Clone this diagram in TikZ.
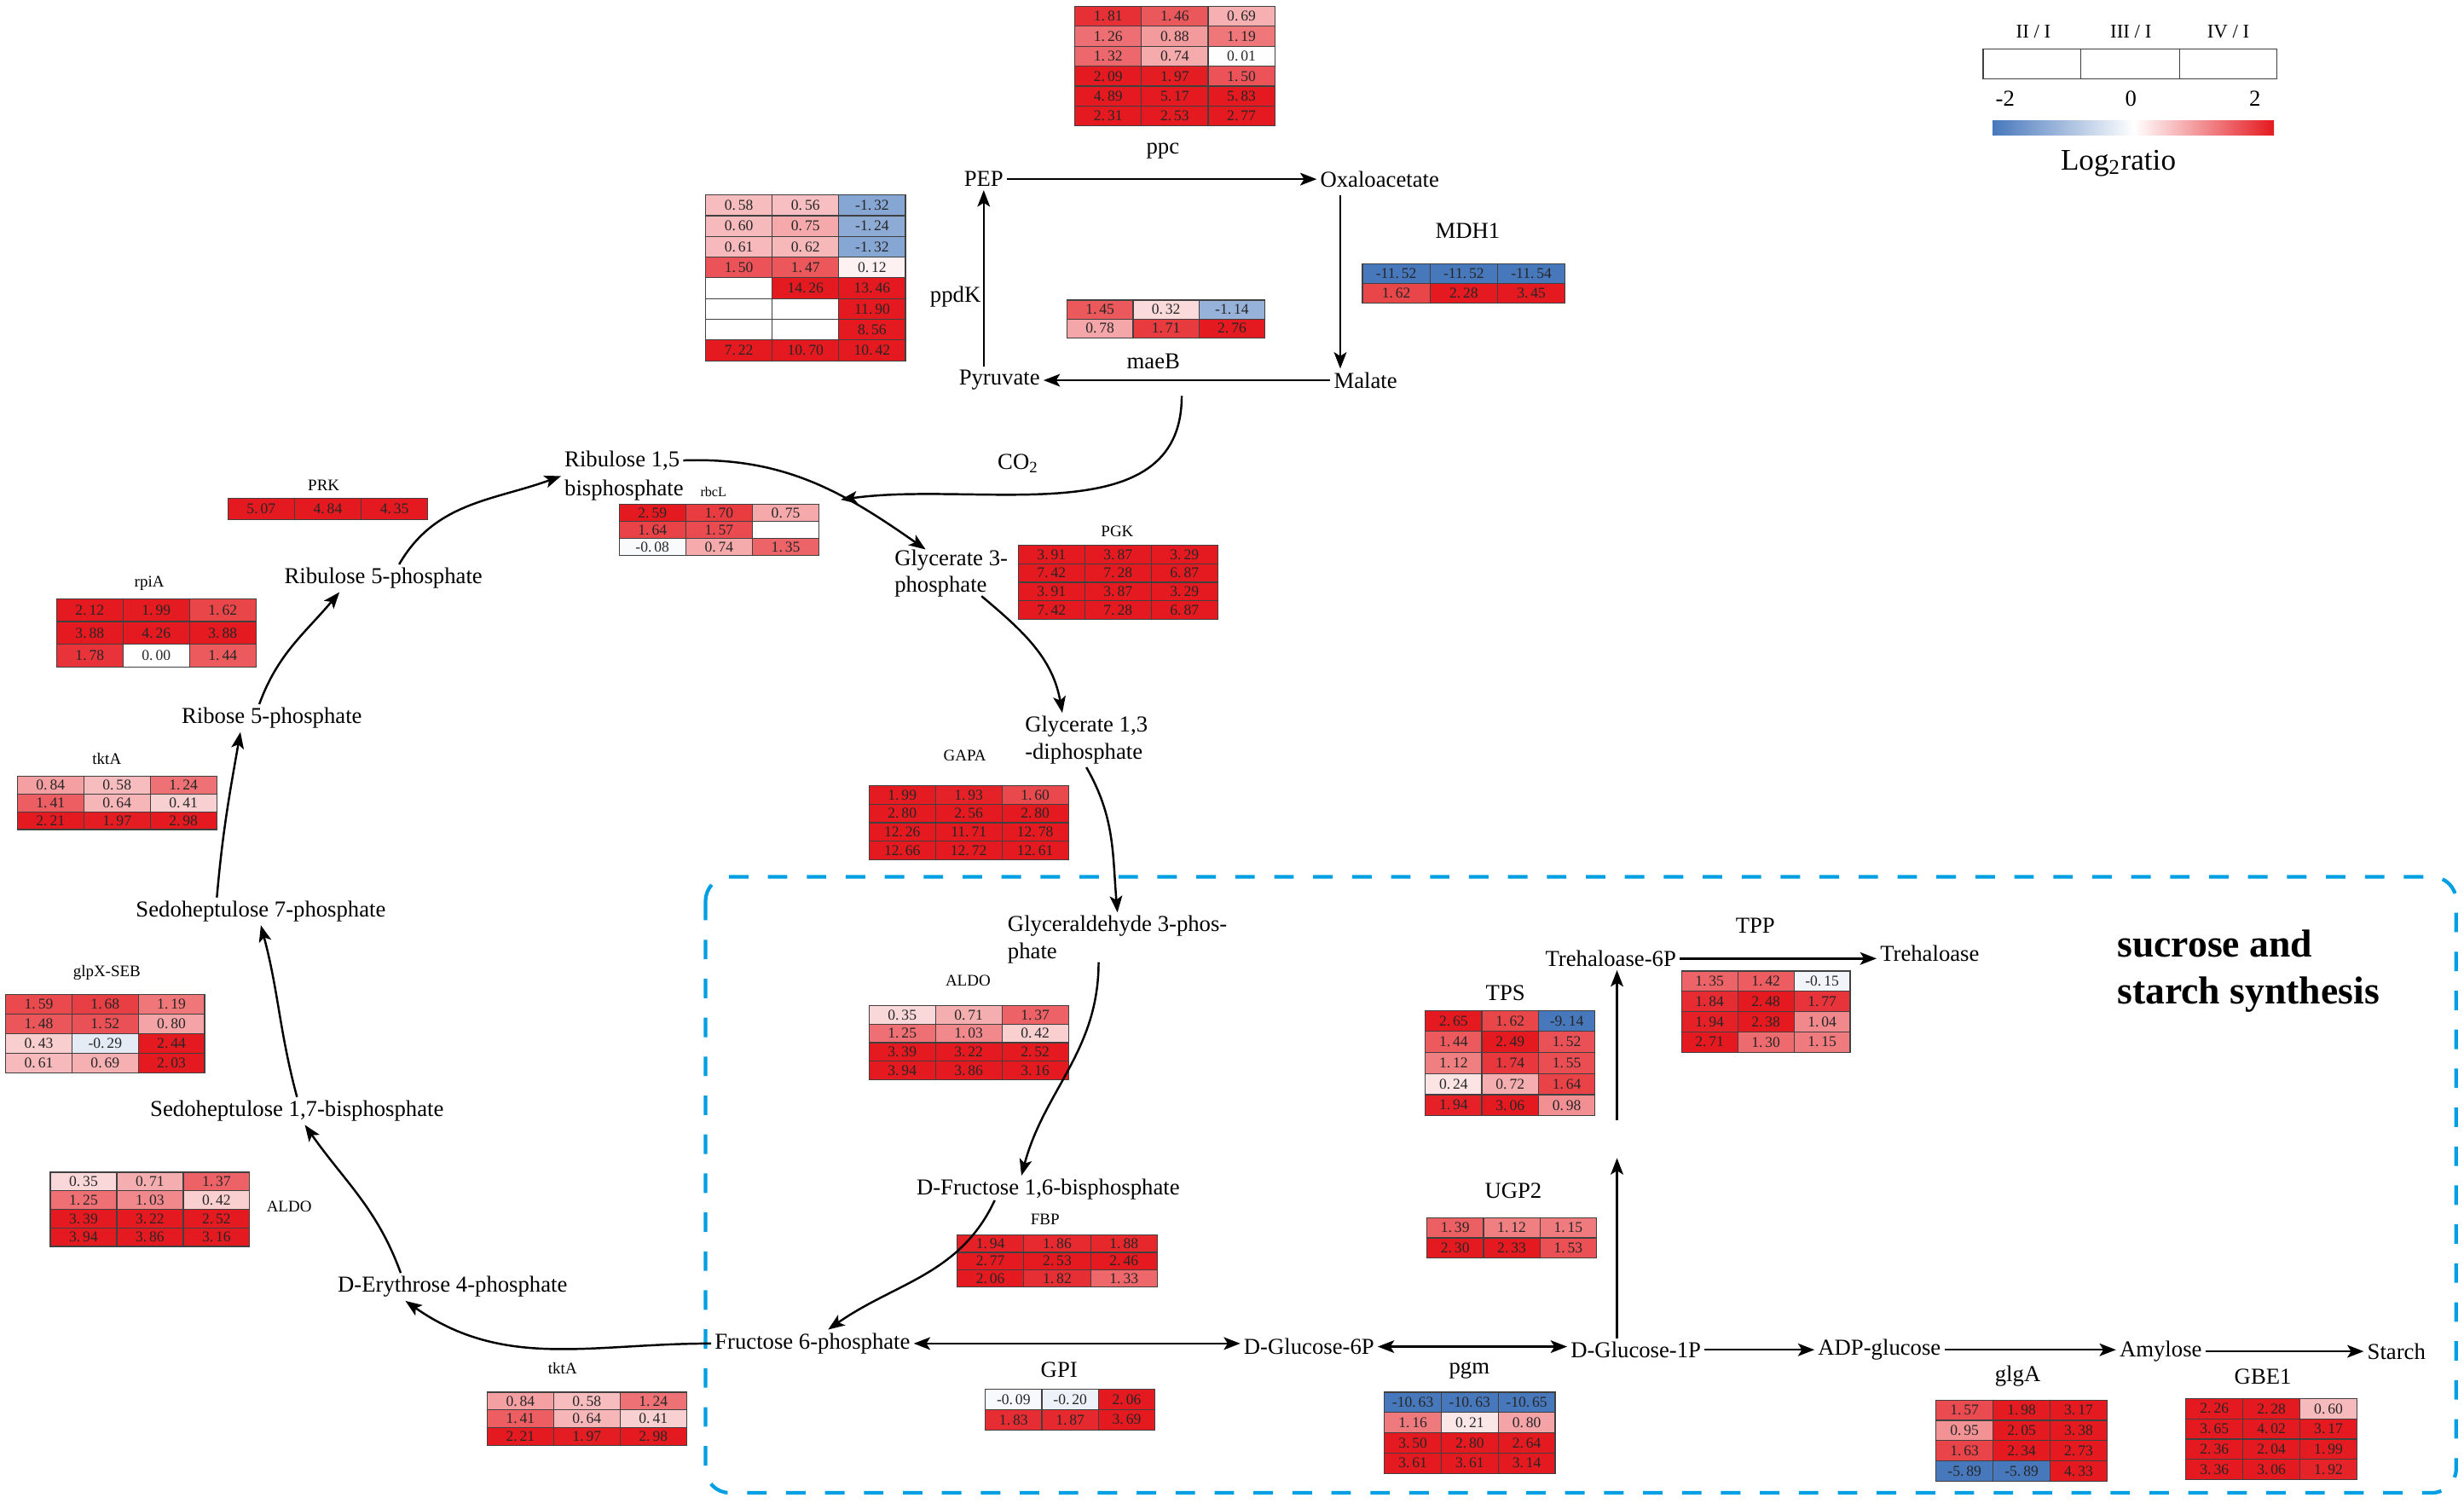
\documentclass[tikz,border=0pt]{standalone}
\usepackage{fontspec}
\setmainfont{Liberation Serif}
\usetikzlibrary{arrows.meta,positioning,calc}

\definecolor{heatred}{RGB}{228,26,32}
\definecolor{heatblue}{RGB}{72,120,188}
\definecolor{boxblue}{RGB}{0,158,226}

\def\nocell{n}
\def\splitdot#1.#2\relax{#1.\,#2}

% one coloured cell: table, column, row, cell width, cell height, value
\newcommand{\hcell}[6]{
	\edef\cellval{#6}
	\ifx\cellval\nocell
		\def\cellfill{white}
	\else
		\pgfmathsetmacro\cellpct{min(abs(\cellval)/2,1)*100}
		\ifdim\cellval pt<0pt
			\edef\cellfill{heatblue!\cellpct!white}
		\else
			\edef\cellfill{heatred!\cellpct!white}
		\fi
	\fi
	\filldraw[cellline, fill=\cellfill] ({(#2-1)*#4},{-(#3-1)*#5}) rectangle ({#2*#4},{-#3*#5});
	\ifx\cellval\nocell\else
		\node[cellnum] (#1-#3-#2) at ({(#2-0.5)*#4},{-(#3-0.5)*#5}) {\expandafter\splitdot\cellval\relax};
	\fi
}

% heat map of three columns: name, top left corner, cell width, cell height, rows
\newcommand{\heatmap}[5]{
	\begin{scope}[shift={#2}]
		\foreach \va/\vb/\vc [count=\r] in {#5}{
			\hcell{#1}{1}{\r}{#3}{#4}{\va}
			\hcell{#1}{2}{\r}{#3}{#4}{\vb}
			\hcell{#1}{3}{\r}{#3}{#4}{\vc}
		}
	\end{scope}
}

\begin{document}
\begin{tikzpicture}[x=0.018431cm, y=0.018431cm,
	metab/.style={font=\fontsize{7.6}{8.9}\selectfont, inner sep=1pt},
	gene/.style={font=\fontsize{7.6}{8.9}\selectfont, inner sep=0pt},
	genesm/.style={font=\fontsize{5.4}{6}\selectfont, inner sep=0pt},
	cellnum/.style={font=\fontsize{5}{5}\selectfont, inner sep=0pt, text=black!85},
	cellline/.style={draw=black!75, line width=0.35pt},
	arr/.style={line width=0.7pt, -{Stealth[length=5.5pt,width=4.2pt,inset=1.3pt]}},
	darr/.style={line width=0.7pt, {Stealth[length=5.5pt,width=4.2pt,inset=1.3pt]}-{Stealth[length=5.5pt,width=4.2pt,inset=1.3pt]}},
	legtxt/.style={font=\fontsize{6.5}{7}\selectfont, inner sep=0pt},
	title/.style={font=\fontsize{13}{15.7}\selectfont\bfseries, inner sep=0pt}]

	\useasboundingbox (0,0) rectangle (1568,-960);

	% sucrose and starch synthesis frame
	\draw[boxblue, line width=1.2pt, dash pattern=on 6.5pt off 6.5pt, rounded corners=8pt] (449,-558) rectangle (1563,-950);
	\node[title, align=left, anchor=west] (synth) at (1347,-618) {sucrose and\\starch synthesis};

	% metabolites
	\node[metab] (pep) at (626,-114) {PEP};
	\node[metab] (oaa) at (878,-114) {Oxaloacetate};
	\node[metab] (pyr) at (636,-242) {Pyruvate};
	\node[metab] (mal) at (869,-242) {Malate};
	\node[metab] (co2) at (648,-295) {CO\textsubscript{2}};
	\node[metab, anchor=west] (rubp) at (357,-293) {Ribulose 1,5};
	\node[metab, below=0.8pt of rubp.south west, anchor=north west] (rubpb) {bisphosphate};
	\node[metab, align=left, anchor=west] (pga) at (567,-365) {Glycerate 3-\\phosphate};
	\node[metab, align=left, anchor=west] (bpg) at (650,-471) {Glycerate 1,3\\-diphosphate};
	\node[metab, align=left, anchor=west] (gap) at (639,-598) {Glyceraldehyde 3-phos-\\phate};
	\node[metab] (fbp) at (667,-757) {D-Fructose 1,6-bisphosphate};
	\node[metab] (f6p) at (517,-855) {Fructose 6-phosphate};
	\node[metab] (g6p) at (833,-857) {D-Glucose-6P};
	\node[metab] (g1p) at (1041,-859) {D-Glucose-1P};
	\node[metab] (adpg) at (1196,-859) {ADP-glucose};
	\node[metab] (amy) at (1375,-860) {Amylose};
	\node[metab] (sta) at (1525,-860) {Starch};
	\node[metab] (t6p) at (1025,-610) {Trehaloase-6P};
	\node[metab] (tre) at (1228,-607) {Trehaloase};
	\node[metab] (e4p) at (288,-819) {D-Erythrose 4-phosphate};
	\node[metab] (sbp) at (189,-707) {Sedoheptulose 1,7-bisphosphate};
	\node[metab] (s7p) at (166,-580) {Sedoheptulose 7-phosphate};
	\node[metab] (r5p) at (173,-457) {Ribose 5-phosphate};
	\node[metab] (ru5p) at (244,-368) {Ribulose 5-phosphate};

	% enzymes
	\node[gene] (ppcL) at (740,-96) {ppc};
	\node[gene] (ppdkL) at (608,-189) {ppdK};
	\node[gene] (maebL) at (734,-230) {maeB};
	\node[gene] (mdhL) at (934,-147) {MDH1};
	\node[genesm] (prkL) at (206,-309) {PRK};
	\node[genesm, font=\fontsize{4.6}{5}\selectfont] (rbclL) at (454,-313) {rbcL};
	\node[genesm] (rpiaL) at (95,-371) {rpiA};
	\node[genesm] (tktaL) at (68,-483) {tktA};
	\node[genesm] (glpxL) at (68,-619) {glpX-SEB};
	\node[genesm] (aldoL) at (184,-768) {ALDO};
	\node[genesm] (tktbL) at (358,-871) {tktA};
	\node[genesm] (pgkL) at (711,-338) {PGK};
	\node[genesm] (gapaL) at (614,-481) {GAPA};
	\node[genesm] (aldobL) at (616,-624) {ALDO};
	\node[genesm] (fbpL) at (665,-776) {FBP};
	\node[gene] (tpsL) at (958,-632) {TPS};
	\node[gene] (tppL) at (1117,-589) {TPP};
	\node[gene] (ugpL) at (963,-758) {UGP2};
	\node[gene] (gpiL) at (674,-872) {GPI};
	\node[gene] (pgmL) at (935,-872) {pgm};
	\node[gene] (glgaL) at (1284,-876) {glgA};
	\node[gene] (gbeL) at (1440,-876) {GBE1};

	% heat maps
	\heatmap{ppc}{(684,-4)}{42.4}{12.7}{1.81/1.46/0.69, 1.26/0.88/1.19, 1.32/0.74/0.01, 2.09/1.97/1.50, 4.89/5.17/5.83, 2.31/2.53/2.77}
	\heatmap{ppdk}{(449,-124)}{42.4}{13.2}{0.58/0.56/-1.32, 0.60/0.75/-1.24, 0.61/0.62/-1.32, 1.50/1.47/0.12, n/14.26/13.46, n/n/11.90, n/n/8.56, 7.22/10.70/10.42}
	\heatmap{maeb}{(679,-191)}{42}{12}{1.45/0.32/-1.14, 0.78/1.71/2.76}
	\heatmap{mdh}{(867,-168)}{43}{12.5}{-11.52/-11.52/-11.54, 1.62/2.28/3.45}
	\heatmap{prk}{(145,-317)}{42.4}{13.5}{5.07/4.84/4.35}
	\heatmap{rbcl}{(394,-321)}{42.4}{10.8}{2.59/1.70/0.75, 1.64/1.57/n, -0.08/0.74/1.35}
	\heatmap{rpia}{(36,-381)}{42.3}{14.5}{2.12/1.99/1.62, 3.88/4.26/3.88, 1.78/0.00/1.44}
	\heatmap{tkta}{(11,-494)}{42.3}{11.3}{0.84/0.58/1.24, 1.41/0.64/0.41, 2.21/1.97/2.98}
	\heatmap{glpx}{(3.6,-633)}{42.2}{12.4}{1.59/1.68/1.19, 1.48/1.52/0.80, 0.43/-0.29/2.44, 0.61/0.69/2.03}
	\heatmap{aldo}{(32,-746)}{42.3}{11.8}{0.35/0.71/1.37, 1.25/1.03/0.42, 3.39/3.22/2.52, 3.94/3.86/3.16}
	\heatmap{tktb}{(310,-886)}{42.3}{11.3}{0.84/0.58/1.24, 1.41/0.64/0.41, 2.21/1.97/2.98}
	\heatmap{pgk}{(648,-347)}{42.3}{11.8}{3.91/3.87/3.29, 7.42/7.28/6.87, 3.91/3.87/3.29, 7.42/7.28/6.87}
	\heatmap{gapa}{(553,-500)}{42.3}{11.8}{1.99/1.93/1.60, 2.80/2.56/2.80, 12.26/11.71/12.78, 12.66/12.72/12.61}
	\heatmap{aldob}{(553,-640)}{42.3}{11.8}{0.35/0.71/1.37, 1.25/1.03/0.42, 3.39/3.22/2.52, 3.94/3.86/3.16}
	\heatmap{fbp}{(609,-786)}{42.5}{11}{1.94/1.86/1.88, 2.77/2.53/2.46, 2.06/1.82/1.33}
	\heatmap{tps}{(907,-643)}{36}{13.4}{2.65/1.62/-9.14, 1.44/2.49/1.52, 1.12/1.74/1.55, 0.24/0.72/1.64, 1.94/3.06/0.98}
	\heatmap{tpp}{(1070,-618)}{35.8}{12.9}{1.35/1.42/-0.15, 1.84/2.48/1.77, 1.94/2.38/1.04, 2.71/1.30/1.15}
	\heatmap{ugp}{(908,-775)}{36}{12.8}{1.39/1.12/1.15, 2.30/2.33/1.53}
	\heatmap{gpi}{(627,-884)}{36}{13}{-0.09/-0.20/2.06, 1.83/1.87/3.69}
	\heatmap{pgm}{(881,-886)}{36.2}{12.9}{-10.63/-10.63/-10.65, 1.16/0.21/0.80, 3.50/2.80/2.64, 3.61/3.61/3.14}
	\heatmap{glga}{(1232,-891)}{36.3}{12.9}{1.57/1.98/3.17, 0.95/2.05/3.38, 1.63/2.34/2.73, -5.89/-5.89/4.33}
	\heatmap{gbe}{(1391,-890)}{36.3}{12.9}{2.26/2.28/0.60, 3.65/4.02/3.17, 2.36/2.04/1.99, 3.36/3.06/1.92}

	% C4 shuttle
	\draw[arr] (pep.east) -- (pep.east -| oaa.west);
	\coordinate (oaadown) at ($(oaa.south west)+(15,-3)$);
	\draw[arr] (oaadown) -- (oaadown |- mal.north);
	\draw[arr] (mal.west) -- (mal.west -| pyr.east);
	\draw[arr] (pep |- pyr.north) -- (pep.south);
	\coordinate (co2src) at (752,-252);
	\coordinate (co2end) at (535,-318);
	\draw[arr] (co2src) to[out=-90, in=8] (co2end);

	% Calvin cycle
	\draw[arr] (rubp.east) to[out=2, in=145] ($(pga.north west)+(22,-2)$);
	\draw[arr] ($(pga.south east)+(-19,3)$) to[out=-40, in=100] ($(bpg.north west)+(26,0)$);
	\draw[arr] (bpg.south) to[out=-60, in=95] (gap.north);
	\draw[arr] ($(gap.south)+(-12,3)$) to[out=-90, in=75] ($(fbp.north)+(-17,0)$);
	\draw[arr] ($(fbp.south)+(-34,2)$) to[out=-115, in=35] ($(f6p.north)+(10,0)$);
	\draw[arr] (f6p.west) to[out=180, in=-35] ($(e4p.south)+(-30,0)$);
	\draw[arr] ($(e4p.north)+(-33,0)$) to[out=110, in=-55] ($(sbp.south)+(5,0)$);
	\draw[arr] (sbp.north) to[out=105, in=-75] (s7p.south);
	\draw[arr] ($(s7p.north)+(-28,0)$) to[out=85, in=-100] ($(r5p.south)+(-20,0)$);
	\draw[arr] ($(r5p.north)+(-8,0)$) to[out=70, in=-130] ($(ru5p.south)+(-28,0)$);
	\draw[arr] ($(ru5p.north)+(10,0)$) to[out=60, in=200] (rubp.west |- rubpb.north);

	% sucrose, trehalose and starch
	\draw[darr] (f6p.east) -- (f6p.east -| g6p.west);
	\draw[darr] (g6p.east) -- (g6p.east -| g1p.west);
	\draw[arr] (g1p.east) -- (g1p.east -| adpg.west);
	\draw[arr] (adpg.east) -- (adpg.east -| amy.west);
	\draw[arr] (amy.east) -- (amy.east -| sta.west);
	\coordinate (trehB) at (1029,-737);
	\coordinate (trehA) at (1029,-713);
	\draw[arr] (g1p.north -| trehB) -- (trehB);
	\draw[arr] (trehA) -- (trehA |- t6p.south);
	\draw[arr] (t6p.east) -- (t6p.east -| tre.west);

	% legend
	\node[legtxt] (leg2) at (1294,-20) {II / I};
	\node[legtxt] (leg3) at (1356,-20) {III / I};
	\node[legtxt] (leg4) at (1418,-20) {IV / I};
	\draw[cellline] (1262,-31) rectangle (1449,-50);
	\draw[cellline] (1324,-31) -- (1324,-50);
	\draw[cellline] (1387,-31) -- (1387,-50);
	\shade[left color=heatblue, right color=white] (1268,-77) rectangle (1358,-86);
	\shade[left color=white, right color=heatred] (1358,-77) rectangle (1447,-86);
	\node[gene] (legmin) at (1276,-63) {-2};
	\node[gene] (legmid) at (1356,-63) {0};
	\node[gene] (legmax) at (1435,-63) {2};
	\node[font=\fontsize{10}{11}\selectfont, inner sep=0pt] (legname) at (1348,-104) {Log\textsubscript{2}ratio};

\end{tikzpicture}
\end{document}
